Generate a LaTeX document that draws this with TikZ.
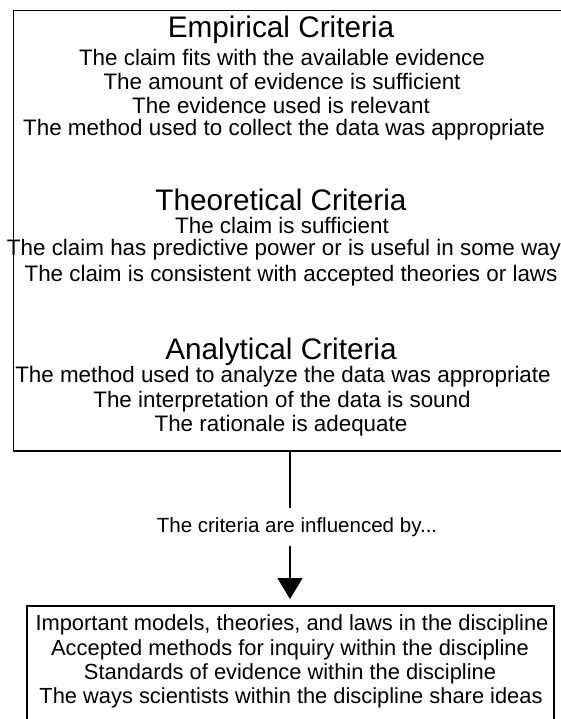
\documentclass[tikz,border=0pt]{standalone}
\usepackage{fontspec}
\setmainfont{Liberation Sans}
\usetikzlibrary{arrows.meta}

\tikzset{every picture/.style={line width=1.2pt}}
\tikzset{
  head/.style={inner sep=0.75pt, font=\fontsize{22.3}{26}\selectfont},
  crit/.style={inner sep=0.75pt, font=\fontsize{16.8}{20}\selectfont},
  infl/.style={inner sep=0.75pt, font=\fontsize{16.4}{20}\selectfont},
  frame/.style={draw, rectangle, inner sep=0pt, line width=1.3pt}
}

\begin{document}
\begin{tikzpicture}[x=0.75pt,y=0.75pt,yscale=-1,xscale=1]
\useasboundingbox (0,0) rectangle (561,719);

%Shape: Rectangle [id:criteria box]
\node (critbox) [frame, minimum width=413pt, minimum height=330.4pt] at (288.75,230.75) {};
%Shape: Rectangle [id:influence box]
\node (inflbox) [frame, minimum width=395.25pt, minimum height=89.25pt] at (290.5,665.5) {};

% Text Node
\node (emp) [head] at (281,30) {Empirical Criteria};
% Text Node
\node (emp1) [crit] at (282,57) {The claim fits with the available evidence};
% Text Node
\node (emp2) [crit] at (282,81) {The amount of evidence is sufficient};
% Text Node
\node (emp3) [crit] at (281,105) {The evidence used is relevant};
% Text Node
\node (emp4) [crit] at (284,130) {The method used to collect the data was appropriate};

% Text Node
\node (theo) [head] at (281,200) {Theoretical Criteria};
% Text Node
\node (theo1) [crit] at (282,225) {The claim is sufficient};
% Text Node
\node (theo2) [crit] at (284,250) {The claim has predictive power or is useful in some way};
% Text Node
\node (theo3) [crit] at (291,276) {The claim is consistent with accepted theories or laws};

% Text Node
\node (ana) [head] at (281,352) {Analytical Criteria};
% Text Node
\node (ana1) [crit] at (283,377) {The method used to analyze the data was appropriate};
% Text Node
\node (ana2) [crit] at (282,402) {The interpretation of the data is sound};
% Text Node
\node (ana3) [crit] at (281,426) {The rationale is adequate};

% Text Node
\node (infl) [crit, font=\fontsize{15.4}{18}\selectfont] at (297,527) {The criteria are influenced by...};

% Text Node
\node (inf1) [infl] at (292,625) {Important models, theories, and laws in the discipline};
% Text Node
\node (inf2) [infl] at (290,650) {Accepted methods for inquiry within the discipline};
% Text Node
\node (inf3) [infl] at (290,674) {Standards of evidence within the discipline};
% Text Node
\node (inf4) [infl] at (291,698) {The ways scientists within the discipline share ideas};

%Straight Lines [id:upper stem]
\coordinate (stemtop) at (290,451);
\coordinate (stemmid) at (290,508);
\draw (critbox.south -| stemtop) -- (stemmid) ;
%Straight Lines [id:lower stem with arrow]
\coordinate (stemlow) at (290,546);
\coordinate (tip) at (290,599);
\draw [-{Triangle[length=15.75pt,width=18.75pt]}] (stemlow) -- (tip) ;

\end{tikzpicture}
\end{document}
